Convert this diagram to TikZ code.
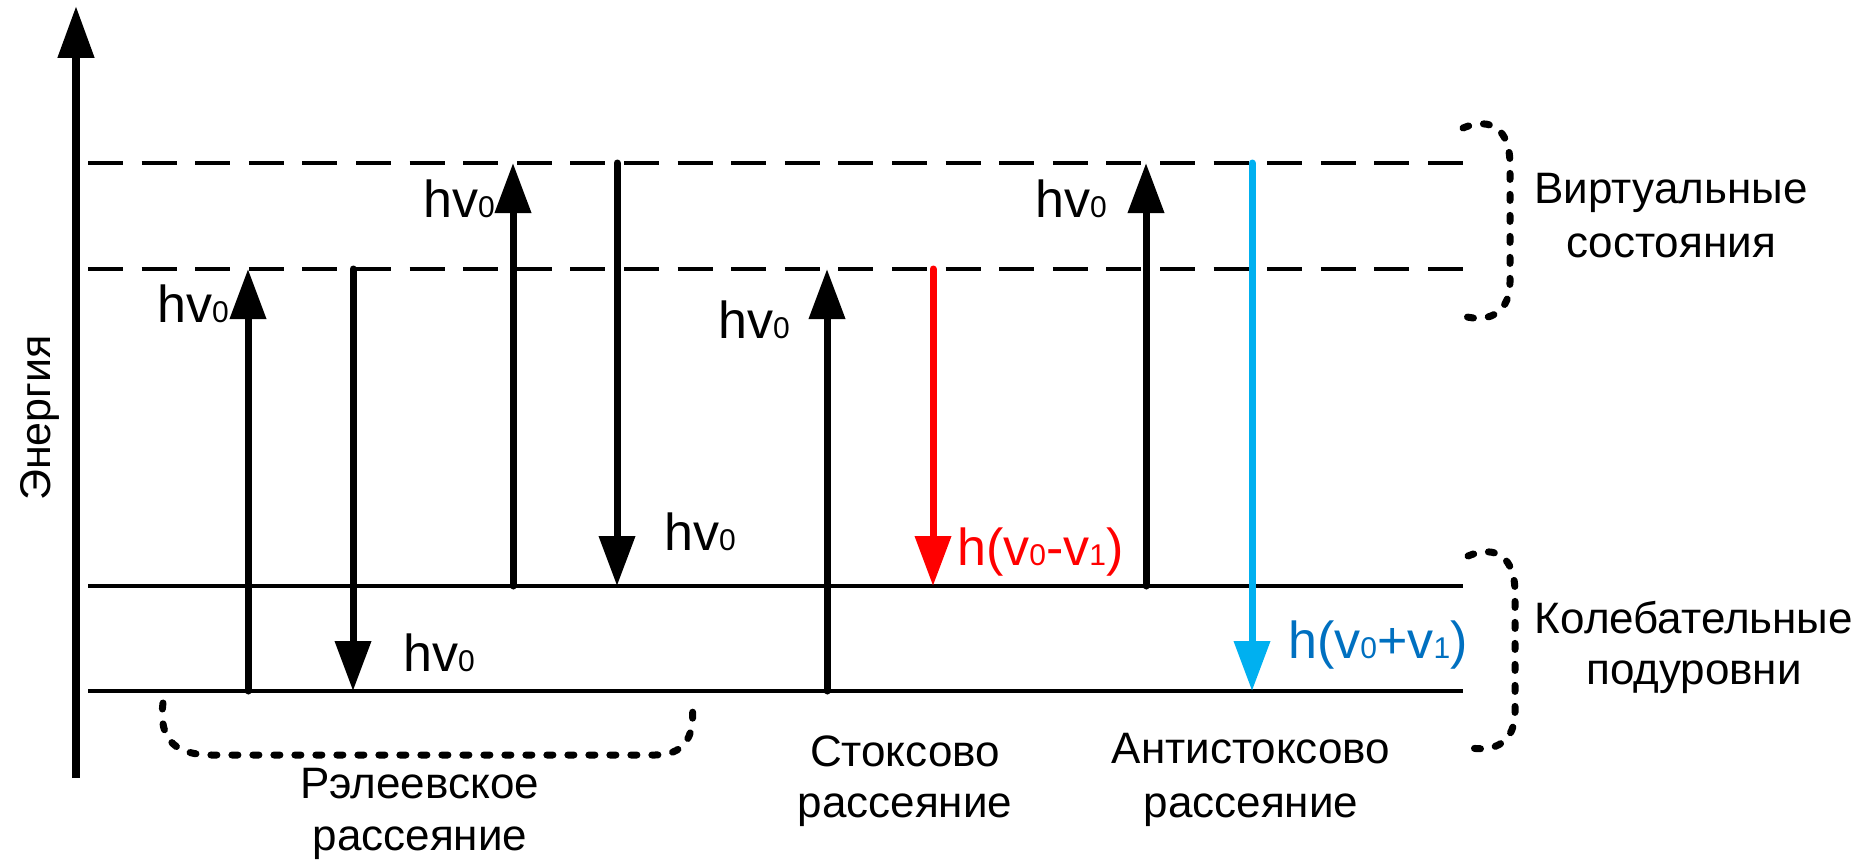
\documentclass[tikz,border=0pt]{standalone}
\usepackage{fontspec}
\setmainfont{Liberation Sans}
\usetikzlibrary{arrows.meta}
\definecolor{stokesred}{RGB}{255,0,0}
\definecolor{arrowblue}{RGB}{0,176,240}
\definecolor{textblue}{RGB}{0,112,192}
\newcommand\subz[1]{{\fontsize{30}{30}\selectfont #1}}
\begin{document}
\begin{tikzpicture}[x=1pt,y=-1pt,
  level/.style={line width=4pt},
  virt/.style={line width=4.5pt, dash pattern=on 35pt off 18.6pt},
  trans/.style={line width=7pt, line cap=round, -{Triangle[width=35pt,length=50pt]}},
  axisarrow/.style={line width=8pt, -{Triangle[width=35pt,length=52pt]}},
  dotbrace/.style={line width=7pt, line cap=round, dash pattern=on 6pt off 15pt},
  hvlab/.style={inner sep=0pt, anchor=base west, font=\fontsize{52}{60}\selectfont},
  desc/.style={inner sep=0pt, anchor=base, font=\fontsize{44}{50}\selectfont}]
\useasboundingbox (0,0) rectangle (1870,864);

% energy axis
\coordinate (ax0) at (76,778);
\coordinate (ax1) at (76,6);
\draw[axisarrow] (ax0) -- (ax1);
\node[inner sep=0pt, anchor=base, rotate=90, font=\fontsize{43}{50}\selectfont] (energy) at (50,418) {Энергия};

% levels
\coordinate (v2a) at (88,163);  \coordinate (v2b) at (1463,163);
\coordinate (v1a) at (88,269);  \coordinate (v1b) at (1463,269);
\coordinate (g1a) at (88,586);  \coordinate (g1b) at (1463,586);
\coordinate (g0a) at (88,691);  \coordinate (g0b) at (1463,691);
\draw[virt] (v2a) -- (v2b);
\draw[virt] (v1a) -- (v1b);
\draw[level] (g1a) -- (g1b);
\draw[level] (g0a) -- (g0b);

% transitions
\coordinate (a1s) at (248,691); \coordinate (a1e) at (248,269);
\coordinate (a2s) at (353,269); \coordinate (a2e) at (353,691);
\coordinate (a3s) at (513,586); \coordinate (a3e) at (513,163);
\coordinate (a4s) at (617,163); \coordinate (a4e) at (617,586);
\coordinate (a5s) at (827,691); \coordinate (a5e) at (827,269);
\coordinate (a6s) at (933,269); \coordinate (a6e) at (933,586);
\coordinate (a7s) at (1146,586); \coordinate (a7e) at (1146,163);
\coordinate (a8s) at (1252,163); \coordinate (a8e) at (1252,691);
\draw[trans] (a1s) -- (a1e);
\draw[trans] (a2s) -- (a2e);
\draw[trans] (a3s) -- (a3e);
\draw[trans] (a4s) -- (a4e);
\draw[trans] (a5s) -- (a5e);
\draw[trans, stokesred] (a6s) -- (a6e);
\draw[trans] (a7s) -- (a7e);
\draw[trans, arrowblue] (a8s) -- (a8e);

% transition labels
\node[hvlab, anchor=base east] (l1) at (229,322) {hv\subz{0}};
\node[hvlab] (l2) at (403,671) {hv\subz{0}};
\node[hvlab] (l3) at (423,217) {hv\subz{0}};
\node[hvlab] (l4) at (664,550) {hv\subz{0}};
\node[hvlab] (l5) at (718,338) {hv\subz{0}};
\node[hvlab, text=stokesred] (l6) at (957,565) {h(v\subz{0}-v\subz{1})};
\node[hvlab] (l7) at (1035,217) {hv\subz{0}};
\node[hvlab, text=textblue] (l8) at (1288,658) {h(v\subz{0}+v\subz{1})};

% braces
\draw[dotbrace] (1463,128) .. controls (1492,116) and (1510,130) .. (1510,165)
  -- (1510,282) .. controls (1510,310) and (1492,324) .. (1463,316);
\draw[dotbrace] (1468,556) .. controls (1497,544) and (1515,558) .. (1515,593)
  -- (1515,712) .. controls (1515,740) and (1497,754) .. (1466,747);
\draw[dotbrace] (163,703) .. controls (158,742) and (178,755) .. (212,755)
  -- (655,755) .. controls (682,755) and (696,740) .. (692,703);

% descriptions
\node[desc] (virt1) at (1671,203) {Виртуальные};
\node[desc] (virt2) at (1671,257) {состояния};
\node[desc] (vib1) at (1694,633) {Колебательные};
\node[desc] (vib2) at (1694,684) {подуровни};
\node[desc] (ray1) at (420,798) {Рэлеевское};
\node[desc] (ray2) at (420,850) {рассеяние};
\node[desc] (sto1) at (905,766) {Стоксово};
\node[desc] (sto2) at (905,817) {рассеяние};
\node[desc] (ast1) at (1251,763) {Антистоксово};
\node[desc] (ast2) at (1251,817) {рассеяние};
\end{tikzpicture}
\end{document}
